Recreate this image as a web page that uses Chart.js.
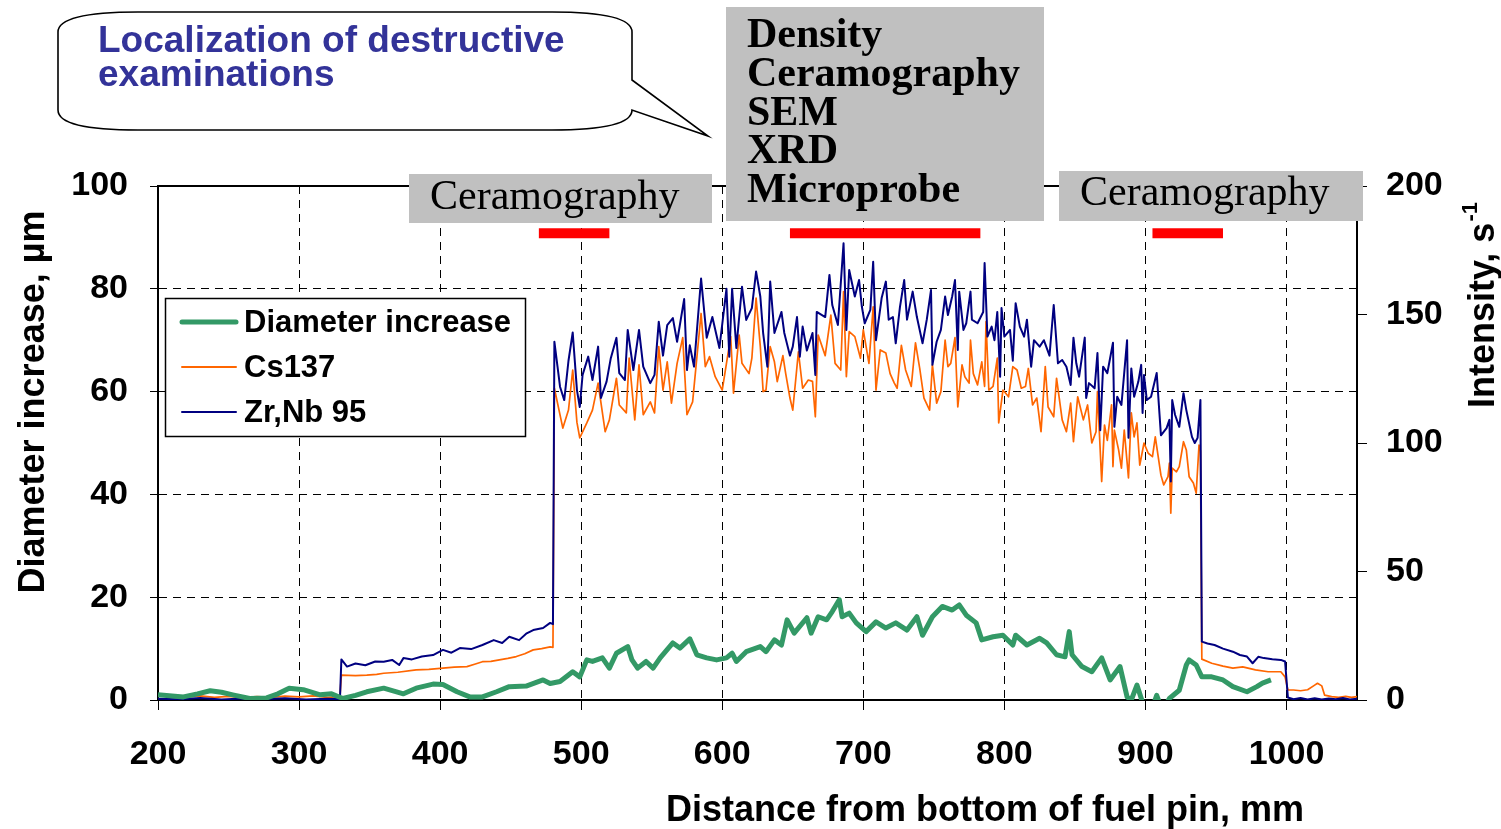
<!DOCTYPE html>
<html>
<head>
<meta charset="utf-8">
<script src="https://cdn.jsdelivr.net/npm/chart.js@4.4.0/dist/chart.umd.min.js"></script>
<style>
  body { margin: 0; background: #fff; }
  canvas { display: block; }
</style>
</head>
<body>
<canvas id="chart" width="1501" height="829"></canvas>
<script>
// tick values
const distanceTicks = [200, 300, 400, 500, 600, 700, 800, 900, 1000];
const diameterTicks = [0, 20, 40, 60, 80, 100];
const intensityTicks = [0, 50, 100, 150, 200];

// Zr,Nb 95 intensity, s-1 (right axis)
const zrDist = [
    200, 215, 230, 245, 260, 275, 290, 305, 320, 329,
    330, 334, 340, 347, 354, 360, 366, 371, 374, 380,
    387, 395, 402, 408, 414, 422, 430, 438, 444, 449,
    456, 461, 466, 473, 478, 480, 481, 485, 488, 491,
    494, 497, 499, 501, 505, 508, 512, 514, 518, 521,
    525, 527, 531, 533, 537, 541, 544, 549, 552, 555,
    558, 561, 565, 568, 573, 575, 577, 580, 585, 589,
    593, 598, 603, 605, 607, 610, 614, 617, 621, 624,
    627, 629, 632, 634, 637, 642, 644, 648, 650, 653,
    655, 657, 660, 664, 666, 667, 673, 676, 678, 682,
    686, 688, 690, 694, 697, 699, 701, 705, 707, 709,
    713, 716, 718, 721, 723, 726, 729, 731, 735, 738,
    742, 745, 748, 749, 752, 755, 758, 760, 763, 765,
    767, 768, 771, 773, 776, 777, 781, 785, 786, 788,
    791, 793, 795, 797, 798, 800, 804, 806, 808, 811,
    814, 816, 819, 821, 825, 828, 832, 835, 838, 841,
    844, 847, 849, 851, 853, 857, 858, 860, 864, 866,
    868, 870, 873, 877, 878, 880, 883, 887, 888, 890,
    892, 895, 897, 898, 899, 901, 904, 908, 911, 915,
    917, 918, 919, 921, 924, 927, 929, 933, 935, 937,
    939, 940, 944, 949, 955, 962, 967, 972, 976, 980,
    984, 990, 996, 999, 1001, 1005, 1010, 1015, 1020, 1025,
    1030, 1035, 1040, 1045, 1050
];
const zrRate = [
    0.5, 0.3, 0.8, 0.2, 0.6, 0.3, 0.7, 0.2, 0.5, 0.4,
    15.8, 13, 14.2, 13.5, 15, 14.9, 15.6, 13.6, 16.3, 15.8,
    16.9, 17.5, 19.5, 18.4, 20.2, 19.8, 21.4, 23.3, 22.2, 24.6,
    23.3, 25.8, 27.2, 28, 30, 29.5, 139.4, 121.9, 116.7, 132,
    143, 120.6, 114, 126.5, 133.6, 124.5, 137.5, 117.5, 123.9, 133,
    140.9, 127.2, 124.5, 144, 128.4, 144, 129.7, 123.3, 126.5, 147.2,
    134, 145.9, 148.6, 139.4, 156, 128.4, 138, 129.7, 164, 141,
    149, 137, 160, 133.6, 160, 137, 160.8, 147.9, 152.5, 166.7,
    157, 142.8, 129.7, 162.8, 142.8, 151, 142.8, 134, 137.5, 149,
    133.6, 145.3, 136, 142.8, 126.5, 151, 149, 165.4, 153.7, 145.9,
    177.7, 144, 167.3, 157, 163.4, 153, 146.6, 151.8, 170.5, 140,
    156.4, 162.8, 148, 149, 138.8, 153, 163.4, 148, 158.9, 149,
    138.8, 148, 159.5, 130.4, 139.4, 144, 157, 149.8, 157, 163.4,
    136.2, 158.9, 144, 146.6, 158.9, 148, 146.6, 151, 170, 141.4,
    145.3, 140, 151, 125.8, 152.5, 141.4, 144, 132, 154.4, 145.3,
    141.4, 148, 129.7, 140, 137.5, 140, 134, 153.7, 131, 132.3,
    129.7, 122.6, 141, 131, 125.8, 141, 117.5, 123.3, 121.3, 135,
    105, 129.7, 127.2, 139, 106.3, 118, 114.8, 140, 102, 129,
    118, 123.9, 130.4, 111.7, 126.5, 116.7, 118, 127.2, 103, 105.8,
    109, 85, 116.7, 111, 106.3, 119.4, 112.8, 102.4, 100, 102,
    116.7, 22.7, 22, 21.4, 20, 18.8, 17.5, 16.9, 14.3, 16.8,
    16.3, 15.9, 15.6, 15, 1, 0.3, 0.8, 0.2, 0.7, 0.2,
    0.6, 0.3, 0.8, 0.2, 0.5
];

// Cs137 intensity, s-1 (right axis)
const csDist = [
    200, 210, 220, 230, 240, 250, 260, 270, 280, 290,
    300, 310, 320, 329, 330, 340, 348, 355, 360, 370,
    383, 392, 402, 410, 419, 425, 430, 436, 442, 448,
    454, 460, 466, 472, 478, 480, 481, 487, 491, 494,
    497, 499, 504, 508, 512, 517, 520, 525, 527, 532,
    534, 538, 541, 544, 549, 552, 555, 558, 561, 564,
    568, 572, 575, 579, 585, 588, 591, 595, 600, 606,
    608, 612, 614, 619, 621, 624, 627, 629, 631, 634,
    637, 639, 643, 645, 648, 650, 654, 657, 661, 664,
    666, 668, 673, 677, 680, 684, 686, 688, 690, 694,
    698, 700, 704, 707, 709, 712, 716, 719, 722, 724,
    727, 730, 734, 737, 740, 743, 747, 749, 752, 755,
    758, 760, 762, 765, 767, 770, 772, 775, 776, 778,
    781, 784, 786, 787, 789, 792, 795, 796, 799, 803,
    806, 809, 812, 815, 817, 820, 823, 826, 829, 831,
    835, 837, 841, 844, 847, 849, 852, 856, 859, 862,
    865, 866, 869, 871, 873, 876, 877, 878, 881, 883,
    885, 888, 890, 892, 894, 896, 899, 902, 905, 907,
    911, 913, 916, 917, 918, 919, 922, 924, 927, 929,
    931, 934, 936, 938, 939, 940, 947, 955, 962, 969,
    978, 987, 996, 999, 1001, 1005, 1010, 1015, 1020, 1022,
    1025, 1027, 1032, 1037, 1042, 1046, 1050
];
const csRate = [
    1.5, 1.9, 1.2, 1.6, 1.0, 1.4, 0.9, 1.3, 1.0, 1.5,
    1.2, 1.6, 1.0, 1.3, 9.7, 9.5, 9.7, 10, 10.4, 10.8,
    11.7, 11.9, 12.4, 12.8, 13, 14, 14.9, 15, 15.6, 16.2,
    16.9, 18, 19.5, 20, 20.7, 20.5, 121.3, 105.8, 112.8, 128.4,
    108, 102, 107.8, 112.8, 123.3, 104.4, 109, 125.2, 114.8, 111.7,
    133, 109, 130.4, 111, 116, 111.7, 137.5, 120.6, 131.6, 115.5,
    131, 141, 111, 116, 150.4, 129.7, 133.6, 125.8, 120.6, 141.4,
    119.4, 142, 131, 127, 133, 156.4, 137.5, 120, 120.6, 137.5,
    131.6, 123.9, 134, 127, 117.5, 112.8, 135.5, 121.3, 124.5, 124,
    110.2, 142, 134, 149.8, 131, 128.4, 158.9, 125.8, 143.3, 141.4,
    133, 144, 131, 153, 120.6, 136.2, 135, 127, 123.3, 121.3,
    138, 128.4, 122, 139, 129, 117.5, 112.8, 130.4, 115.5, 120,
    140, 129.7, 131, 141, 114, 130.4, 125.8, 123.3, 140, 127,
    122.6, 131.6, 122, 147.2, 120.6, 122, 133, 107.8, 120.6, 118,
    129.7, 128.4, 121.3, 122, 129, 114.8, 117.5, 104.4, 129.7, 114,
    110.2, 125.2, 109, 104.4, 115.5, 100.5, 118, 109, 114.8, 100,
    104.4, 120, 85, 107, 101, 114.8, 90.8, 105, 97.3, 90.2,
    105, 86.4, 111.7, 102.4, 107.8, 91.4, 100, 96, 94.7, 102.4,
    87.5, 83.7, 86.9, 92.2, 72.7, 90.2, 88.8, 90.8, 100.5, 97.3,
    86.9, 84.4, 80.5, 99.2, 97, 15.9, 14.3, 13.2, 12.4, 12.9,
    11.7, 11, 11, 9, 3.9, 3.9, 3.6, 4.0, 5.8, 6.5,
    5.5, 1.9, 1.3, 1.0, 1.4, 1.0, 1.3
];

// Diameter increase, µm (left axis)
const diaDist = [
    200, 210, 218, 228, 237, 245, 253, 265, 277, 285,
    293, 303, 315, 323, 331, 340, 348, 360, 374, 383,
    395, 402, 412, 421, 430, 440, 449, 461, 473, 478,
    485, 494, 499, 504, 508, 515, 520, 525, 533, 536,
    540, 546, 551, 556, 565, 570, 577, 582, 589, 596,
    603, 607, 610, 617, 627, 631, 637, 642, 646, 651,
    660, 663, 668, 674, 678, 683, 685, 690, 695, 702,
    709, 716, 723, 731, 738, 742, 749, 756, 763, 768,
    773, 780, 784, 792, 799, 806, 808, 816, 825, 830,
    837, 843, 846, 848, 855, 862, 869, 875, 882, 887,
    890, 894, 898, 903, 908, 912, 917, 924, 929, 931,
    936, 940, 947, 955, 962, 972, 979, 983, 989
];
const diaIncrease = [
    1.0, 0.8, 0.6, 1.2, 1.8, 1.5, 1.0, 0.3, 0.4, 1.2,
    2.3, 2.0, 1.0, 1.2, 0.3, 0.9, 1.6, 2.3, 1.2, 2.3,
    3.1, 3.0, 1.6, 0.6, 0.6, 1.6, 2.6, 2.7, 3.9, 3.2,
    3.6, 5.5, 4.5, 7.8, 7.5, 8.2, 6.2, 9.1, 10.4, 7.8,
    6.2, 7.5, 6.2, 8.2, 11.1, 10.1, 11.9, 8.8, 8.2, 7.8,
    8.2, 9.1, 7.5, 9.4, 10.4, 9.4, 11.7, 10.7, 15.6, 13,
    16, 13, 16.2, 15.6, 17.2, 19.5, 16.2, 16.9, 15, 13.3,
    15.2, 14, 15, 13.6, 16.2, 12.6, 16.2, 18.2, 17.5, 18.5,
    16.5, 15, 11.7, 12.3, 12.6, 10.7, 12.6, 10.7, 12, 11.1,
    8.8, 8.4, 13.3, 8.8, 6.5, 5.5, 8.2, 3.9, 6.5, 0.6,
    0, 2.9, -0.5, -3, 0.9, -2, 0.3, 1.9, 6.8, 7.8,
    6.8, 4.5, 4.5, 3.9, 2.6, 1.6, 2.6, 3.3, 3.9
];

// sampled zones of destructive examinations, mm
const examRanges = [[470, 520], [648, 783], [905, 955]];
const examLevel = 90.8;

function toPoints(xs, ys) {
    return xs.map((x, i) => ({ x: x, y: ys[i] }));
}

const SANS = "'Liberation Sans', Arial, sans-serif";
const SERIF = "'Liberation Serif', 'Times New Roman', serif";

let datasets = [
    {
        label: "Diameter increase",
        data: toPoints(diaDist, diaIncrease),
        yAxisID: "y",
        borderColor: "#339966",
        borderWidth: 5,
        order: 0,
    },
    {
        label: "Zr,Nb 95",
        data: toPoints(zrDist, zrRate),
        yAxisID: "y2",
        borderColor: "#000080",
        borderWidth: 2,
        order: 1,
    },
    {
        label: "Cs137",
        data: toPoints(csDist, csRate),
        yAxisID: "y2",
        borderColor: "#FF6600",
        borderWidth: 1.7,
        order: 2,
    },
];
examRanges.forEach((r) => {
    datasets.push({
        label: "exam",
        data: [{ x: r[0], y: examLevel }, { x: r[1], y: examLevel }],
        yAxisID: "y",
        borderColor: "#FF0000",
        borderWidth: 10,
        borderCapStyle: "butt",
        order: 3,
    });
});

function fixTicks(list) {
    return (scale) => { scale.ticks = list.map((v) => ({ value: v })); };
}

// callout, grey boxes, legend and axis titles
const decorations = {
    id: "decorations",
    afterDraw(chart) {
        const ctx = chart.ctx;
        const a = chart.chartArea;
        ctx.save();

        // top frame line
        ctx.strokeStyle = "#000";
        ctx.lineWidth = 2;
        ctx.beginPath();
        ctx.moveTo(a.left, a.top);
        ctx.lineTo(a.right, a.top);
        ctx.stroke();

        // callout bubble
        const x0 = 58, x1 = 632, y0 = 12, y1 = 130, rx = 80, ry = 20;
        ctx.beginPath();
        ctx.moveTo(x0 + rx, y0);
        ctx.lineTo(x1 - rx, y0);
        ctx.quadraticCurveTo(x1, y0, x1, y0 + ry);
        ctx.lineTo(x1, 80);
        ctx.lineTo(708, 136);
        ctx.lineTo(x1, y1 - ry);
        ctx.quadraticCurveTo(x1, y1, x1 - rx, y1);
        ctx.lineTo(x0 + rx, y1);
        ctx.quadraticCurveTo(x0, y1, x0, y1 - ry);
        ctx.lineTo(x0, y0 + ry);
        ctx.quadraticCurveTo(x0, y0, x0 + rx, y0);
        ctx.closePath();
        ctx.fillStyle = "#fff";
        ctx.fill();
        ctx.lineWidth = 1.6;
        ctx.stroke();
        ctx.fillStyle = "#333399";
        ctx.font = "bold 37px " + SANS;
        ctx.textAlign = "left";
        ctx.textBaseline = "alphabetic";
        ctx.fillText("Localization of destructive", 98, 52);
        ctx.fillText("examinations", 98, 86);

        // grey boxes
        ctx.fillStyle = "#C0C0C0";
        ctx.fillRect(409, 174, 303, 49);
        ctx.fillRect(726, 7, 318, 214);
        ctx.fillRect(1059, 171, 304, 50);
        ctx.fillStyle = "#000";
        ctx.font = "42px " + SERIF;
        ctx.fillText("Ceramography", 430, 209);
        ctx.fillText("Ceramography", 1080, 205);
        ctx.font = "bold 42px " + SERIF;
        ["Density", "Ceramography", "SEM", "XRD", "Microprobe"].forEach((t, i) => {
            ctx.fillText(t, 747, 47 + i * 38.8);
        });

        // legend
        ctx.fillStyle = "#fff";
        ctx.fillRect(165, 298, 361, 139);
        ctx.strokeStyle = "#000";
        ctx.lineWidth = 1.5;
        ctx.strokeRect(165.5, 298.5, 360, 138);
        const items = [
            ["Diameter increase", "#339966", 5, 322],
            ["Cs137", "#FF6600", 2, 367],
            ["Zr,Nb 95", "#000080", 2, 412],
        ];
        ctx.font = "bold 31px " + SANS;
        ctx.textBaseline = "middle";
        items.forEach((it) => {
            ctx.strokeStyle = it[1];
            ctx.lineWidth = it[2];
            ctx.lineCap = "round";
            ctx.beginPath();
            ctx.moveTo(182, it[3]);
            ctx.lineTo(236, it[3]);
            ctx.stroke();
            ctx.fillStyle = "#000";
            ctx.fillText(it[0], 244, it[3] + 1);
        });

        // axis titles
        ctx.fillStyle = "#000";
        ctx.font = "bold 36px " + SANS;
        ctx.textAlign = "center";
        ctx.textBaseline = "alphabetic";
        ctx.fillText("Distance from bottom of fuel pin, mm", 985, 821);

        ctx.save();
        ctx.translate(44, 402);
        ctx.rotate(-Math.PI / 2);
        ctx.fillText("Diameter increase, µm", 0, 0);
        ctx.restore();

        ctx.save();
        ctx.translate(1494, 408);
        ctx.rotate(-Math.PI / 2);
        ctx.textAlign = "left";
        ctx.fillText("Intensity, s", 0, 0);
        const w = ctx.measureText("Intensity, s").width;
        ctx.font = "bold 22px " + SANS;
        ctx.fillText("-1", w + 1, -17);
        ctx.restore();

        ctx.restore();
    },
};

const tickFont = { family: SANS, size: 34, weight: "bold" };
const plainLabel = (v) => String(v);

new Chart(document.getElementById("chart"), {
    type: "line",
    data: { datasets: datasets },
    options: {
        responsive: false,
        animation: false,
        layout: { padding: { top: 186, left: 0, right: 0, bottom: 0 } },
        elements: {
            point: { radius: 0 },
            line: { tension: 0, borderJoinStyle: "round" },
        },
        plugins: {
            legend: { display: false },
            tooltip: { enabled: false },
        },
        scales: {
            x: {
                type: "linear",
                min: 200,
                max: 1050,
                afterBuildTicks: fixTicks(distanceTicks),
                afterFit: (s) => { s.height = 129; },
                ticks: { color: "#000", font: tickFont, padding: 24, maxRotation: 0, callback: plainLabel },
                grid: { color: "#000", lineWidth: 1, tickLength: 10, tickColor: "#000" },
                border: { display: true, color: "#000", width: 2, dash: [8, 6] },
            },
            y: {
                type: "linear",
                position: "left",
                min: 0,
                max: 100,
                afterBuildTicks: fixTicks(diameterTicks),
                afterFit: (s) => { s.width = 158; },
                ticks: { color: "#000", font: tickFont, padding: 22, callback: plainLabel },
                grid: { color: "#000", lineWidth: 1, tickLength: 8, tickColor: "#000" },
                border: { display: true, color: "#000", width: 2, dash: [8, 6] },
            },
            y2: {
                type: "linear",
                position: "right",
                min: 0,
                max: 200,
                afterBuildTicks: fixTicks(intensityTicks),
                afterFit: (s) => { s.width = 144; },
                ticks: { color: "#000", font: tickFont, padding: 19, callback: plainLabel },
                grid: { drawOnChartArea: false, color: "#000", tickLength: 10, tickColor: "#000" },
                border: { display: true, color: "#000", width: 2 },
            },
        },
    },
    plugins: [decorations],
});
</script>
</body>
</html>
